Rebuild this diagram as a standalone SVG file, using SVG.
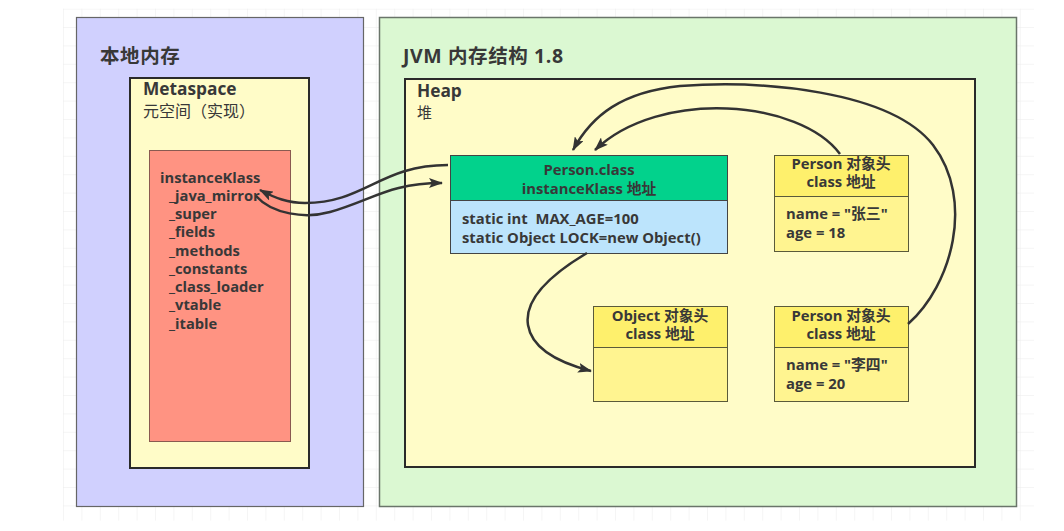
<svg xmlns="http://www.w3.org/2000/svg" width="1064" height="531" viewBox="0 0 1064 531">
<defs>
<pattern id="grid" x="63" y="8.6" width="18.4" height="18.4" patternUnits="userSpaceOnUse">
<path d="M0,0 H18.4 M0,0 V18.4" fill="none" stroke="#ececec" stroke-width="1"/>
</pattern>
<marker id="arr" viewBox="0 0 14 10" refX="13" refY="5" markerWidth="14" markerHeight="10" markerUnits="userSpaceOnUse" orient="auto">
<path d="M0,0 L14,5 L0,10 L3,5 Z" fill="#333"/>
</marker>
<style>
text{font-family:"Open Sans","Noto Sans CJK SC",sans-serif;fill:#383838;font-weight:bold;white-space:pre}
.t18{font-size:19.5px;letter-spacing:0.6px}
.t16{font-size:17.3px}
.sub{font-size:16px;font-weight:normal}
.t14{font-size:14.7px}
.t13{font-size:14.8px}
.mid{text-anchor:middle}
.con{fill:none;stroke:#333;stroke-width:2.5;marker-end:url(#arr)}
</style>
</defs>
<rect x="0" y="0" width="1064" height="531" fill="#fff"/>
<rect x="63" y="8.6" width="971" height="512" fill="url(#grid)"/>

<g id="local-memory">
<rect x="76.5" y="17.5" width="287" height="489" fill="#d0d0fe" stroke="#666" stroke-width="1.2"/>
<text x="100" y="63" class="t18">本地内存</text>
</g>
<g id="metaspace">
<rect x="130" y="78" width="179" height="390" fill="#fffcc8" stroke="#2a2a2a" stroke-width="2"/>
<text x="143" y="95" class="t16">Metaspace</text>
<text x="143" y="117" class="sub">元空间（实现）</text>
</g>
<g id="instanceKlass">
<rect x="149.5" y="150.5" width="141" height="291" fill="#ff9382" stroke="#8a5a50" stroke-width="1"/>
<text x="160" y="183" class="t14">instanceKlass</text>
<text x="169" y="201" class="t14">_java_mirror</text>
<text x="169" y="219" class="t14">_super</text>
<text x="169" y="237" class="t14">_fields</text>
<text x="169" y="256" class="t14">_methods</text>
<text x="169" y="274" class="t14">_constants</text>
<text x="169" y="292" class="t14">_class_loader</text>
<text x="169" y="310" class="t14">_vtable</text>
<text x="169" y="329" class="t14">_itable</text>
</g>

<g id="jvm">
<rect x="379.5" y="17.5" width="637" height="489" fill="#dbf8d2" stroke="#6a756a" stroke-width="1.5"/>
<text x="403" y="63" class="t18">JVM 内存结构 1.8</text>
</g>
<g id="heap">
<rect x="405" y="79" width="570" height="388" fill="#fffcc8" stroke="#2a2a2a" stroke-width="2"/>
<text x="417" y="97" class="t16">Heap</text>
<text x="417" y="118" class="sub" style="font-size:15px">堆</text>
</g>

<g id="person-class">
<rect x="450.5" y="155.5" width="277" height="45" fill="#02d28c" stroke="#444" stroke-width="1"/>
<rect x="450.5" y="200.5" width="277" height="53" fill="#bce4fc" stroke="#444" stroke-width="1"/>
<text x="589" y="175" class="t13 mid">Person.class</text>
<text x="589" y="194" class="t13 mid">instanceKlass 地址</text>
<text x="462" y="224" class="t13">static int  MAX_AGE=100</text>
<text x="462" y="243" class="t13">static Object LOCK=new Object()</text>
</g>

<g id="person-zhangsan">
<rect x="774.5" y="155.5" width="134" height="41" fill="#fef06c" stroke="#5a5a3a" stroke-width="1"/>
<rect x="774.5" y="196.5" width="134" height="55" fill="#fff490" stroke="#5a5a3a" stroke-width="1"/>
<text x="841" y="169" class="t13 mid">Person 对象头</text>
<text x="841" y="187" class="t13 mid">class 地址</text>
<text x="786" y="219" class="t13">name = "张三"</text>
<text x="786" y="238" class="t13">age = 18</text>
</g>

<g id="object">
<rect x="593.5" y="306.5" width="134" height="41" fill="#fef06c" stroke="#5a5a3a" stroke-width="1"/>
<rect x="593.5" y="347.5" width="134" height="54" fill="#fff490" stroke="#5a5a3a" stroke-width="1"/>
<text x="660" y="321" class="t13 mid">Object 对象头</text>
<text x="660" y="339" class="t13 mid">class 地址</text>
</g>

<g id="person-lisi">
<rect x="774.5" y="306.5" width="134" height="41" fill="#fef06c" stroke="#5a5a3a" stroke-width="1"/>
<rect x="774.5" y="347.5" width="134" height="54" fill="#fff490" stroke="#5a5a3a" stroke-width="1"/>
<text x="841" y="321" class="t13 mid">Person 对象头</text>
<text x="841" y="339" class="t13 mid">class 地址</text>
<text x="786" y="370" class="t13">name = "李四"</text>
<text x="786" y="389" class="t13">age = 20</text>
</g>

<g id="connectors">
<path class="con" d="M448,165 C380,165 365,203 305,203 C288,203 275,198 260,190"/>
<path class="con" d="M256,196 C272,214 305,219 330,212 C372,200 390,183 442,183"/>
<path class="con" d="M840,154 C800,100 660,88 595,150"/>
<path class="con" d="M908,324 C952,285 975,200 933,145 C890,90 760,80 680,86 C622,92 592,115 573,150"/>
<path class="con" d="M587,253 C550,275 524,300 528,325 C532,350 560,363 591,371"/>
</g>
</svg>
